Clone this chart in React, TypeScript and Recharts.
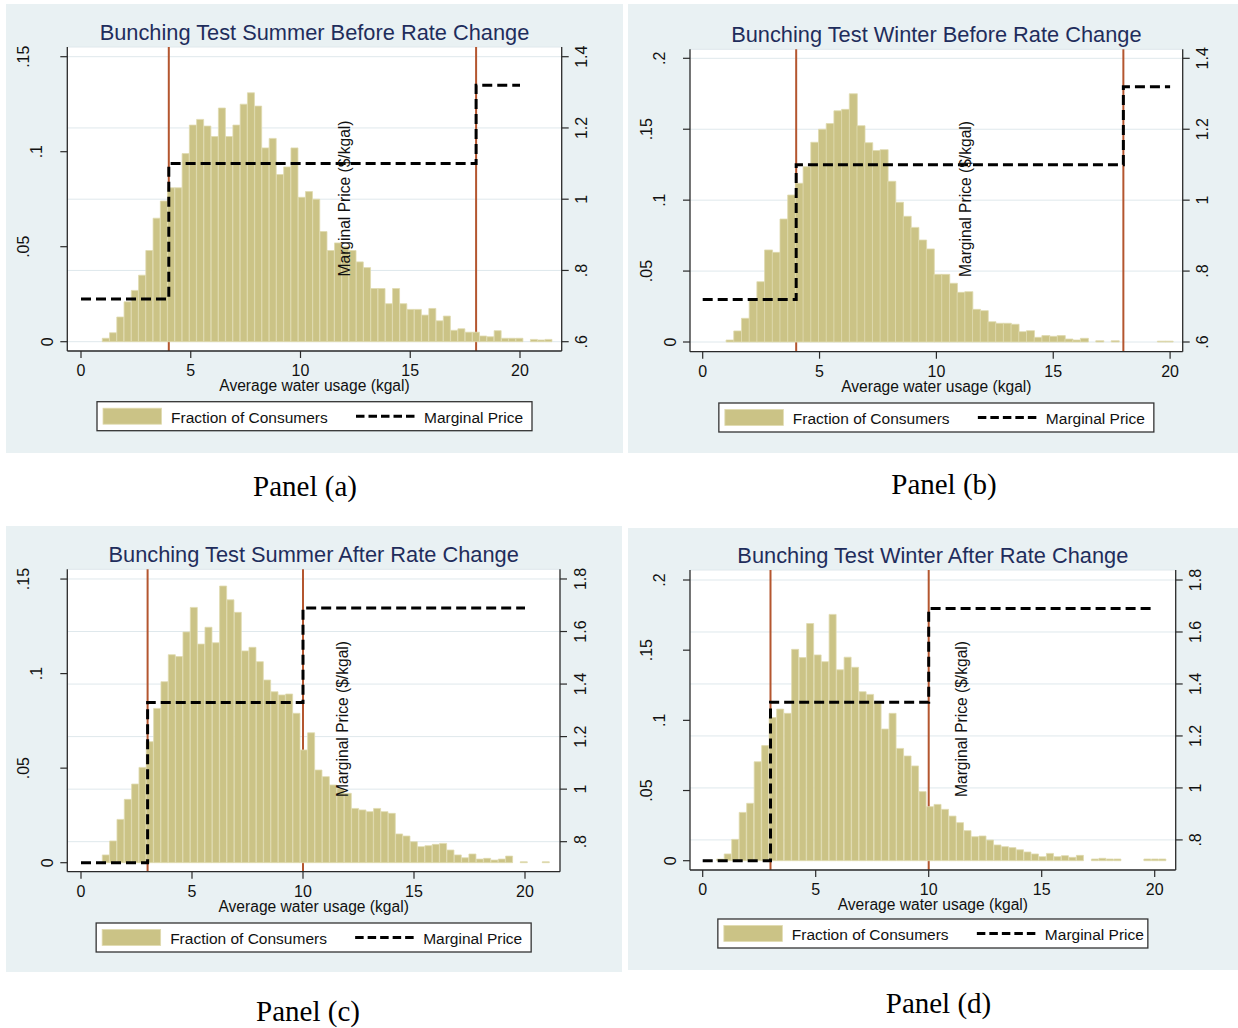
import React from 'react';
import { ComposedChart, Bar, Line, XAxis, YAxis, CartesianGrid, ReferenceLine } from 'recharts';

// ---------------- DATA ----------------
// Fraction of consumers per histogram bin
const fractionA = [0.0018, 0.0047, 0.013, 0.021, 0.027, 0.035, 0.048, 0.065, 0.074, 0.081,
  0.081, 0.099, 0.114, 0.117, 0.1135, 0.108, 0.123, 0.108, 0.114, 0.125,
  0.131, 0.124, 0.102, 0.107, 0.088, 0.092, 0.102, 0.076, 0.079, 0.075,
  0.058, 0.048, 0.052, 0.050, 0.048, 0.042, 0.039, 0.028, 0.028, 0.020,
  0.028, 0.020, 0.017, 0.017, 0.014, 0.0175, 0.011, 0.0135, 0.006, 0.0068,
  0.005, 0.005, 0.003, 0.0026, 0.0058, 0.0018, 0.0018, 0.0018, 0, 0.0012, 0.0009, 0.0012];
const binStartA = 0.97;
const binWidthA = 0.3306;

const fractionB = [0.0014, 0.0078, 0.0167, 0.0296, 0.0425, 0.0649, 0.0632, 0.0867, 0.1036, 0.1119,
  0.1236, 0.1408, 0.150, 0.154, 0.163, 0.164, 0.175, 0.1525, 0.1405, 0.135,
  0.1356, 0.1133, 0.0985, 0.0886, 0.0808, 0.0719, 0.0656, 0.0477, 0.0477, 0.0414,
  0.035, 0.0355, 0.023, 0.0221, 0.0143, 0.0132, 0.0132, 0.0125, 0.0073, 0.008,
  0.0033, 0.0045, 0.004, 0.0045, 0.0021, 0.0014, 0.0026, 0, 0.0009, 0,
  0.0009, 0, 0, 0, 0, 0, 0.0006, 0.0006];
const binStartB = 1.0;
const binWidthB = 0.3296;

const fractionC = [0.0041, 0.0115, 0.0229, 0.0335, 0.0416, 0.0504, 0.064, 0.0816, 0.0957, 0.110,
  0.109, 0.122, 0.135, 0.1156, 0.1245, 0.1163, 0.1463, 0.139, 0.1324, 0.112,
  0.1139, 0.1063, 0.0966, 0.0904, 0.0887, 0.0892, 0.079, 0.0596, 0.0687, 0.049,
  0.0455, 0.0411, 0.0393, 0.0367, 0.0287, 0.0279, 0.027, 0.0287, 0.027, 0.0261,
  0.0152, 0.0141, 0.0111, 0.0085, 0.009, 0.0097, 0.0102, 0.0067, 0.0041, 0.0026,
  0.0046, 0.0019, 0.0023, 0.0014, 0.0019, 0.0035, 0, 0.0005, 0, 0, 0.0005];
const binStartC = 0.96;
const binWidthC = 0.3303;

const fractionD = [0.0012, 0.0048, 0.0152, 0.0344, 0.0409, 0.0705, 0.082, 0.102, 0.108, 0.105,
  0.1506, 0.1447, 0.169, 0.1466, 0.1418, 0.1755, 0.136, 0.145, 0.1378, 0.1204,
  0.1185, 0.1126, 0.0938, 0.105, 0.080, 0.0746, 0.0675, 0.0492, 0.0385, 0.0401,
  0.0366, 0.0318, 0.0271, 0.0214, 0.0171, 0.0176, 0.0147, 0.0112, 0.010, 0.0093,
  0.0078, 0.0062, 0.0048, 0.0029, 0.0052, 0.0029, 0.0036, 0.0024, 0.0038, 0,
  0.0012, 0.0017, 0.0012, 0.0012, 0, 0, 0, 0.0012, 0.0012, 0.0012];
const binStartD = 0.62;
const binWidthD = 0.3316;

// Marginal price step schedules ($/kgal)
const priceXBefore = [0, 4, 4, 18, 18, 20];
const priceYBefore = [0.72, 0.72, 1.10, 1.10, 1.32, 1.32];
const priceXAfter = [0, 3, 3, 10, 10, 20];
const priceYAfter = [0.72, 0.72, 1.33, 1.33, 1.69, 1.69];
const kinksBefore = [4, 18];
const kinksAfter = [3, 10];

// Tick values
const xTicks = [0, 5, 10, 15, 20];
const leftTicks15 = [0, 0.05, 0.1, 0.15];
const leftTicks20 = [0, 0.05, 0.1, 0.15, 0.2];
const rightTicksBefore = [0.6, 0.8, 1, 1.2, 1.4];
const rightTicksAfter = [0.8, 1, 1.2, 1.4, 1.6, 1.8];

const titles = [
  'Bunching Test Summer Before Rate Change',
  'Bunching Test Winter Before Rate Change',
  'Bunching Test Summer After Rate Change',
  'Bunching Test Winter After Rate Change',
];
const captions = ['Panel (a)', 'Panel (b)', 'Panel (c)', 'Panel (d)'];
const xAxisTitle = 'Average water usage (kgal)';
const rightAxisTitle = 'Marginal Price ($/kgal)';
const legendBarLabel = 'Fraction of Consumers';
const legendLineLabel = 'Marginal Price';

// ---------------- STYLE / LAYOUT ----------------
const FONT = '"Liberation Sans", Arial, Helvetica, sans-serif';
const SERIF = '"Liberation Serif", "Times New Roman", Times, serif';
const BG = '#e9f1f3';
const BAR_FILL = '#cbc386';
const BAR_EDGE = '#e0dbb0';
const KINK = '#b4562f';
const AXIS = '#2a2a2a';
const GRID = '#dfe8ec';
const TITLE = '#1f2d5c';
const YW = 50;
const XH = 30;

type Geo = {
  bg: number[]; plot: number[]; x0: number; xu: number; y0: number; yu: number; r0: number; ru: number;
  legendTop: number; legendW: number; mp: number[]; cap: number[];
};

const geoA: Geo = { bg: [6, 4, 623, 453], plot: [67.3, 47, 561.7, 351], x0: 81, xu: 21.95, y0: 341.7, yu: 1900, r0: 0.6, ru: 356.25, legendTop: 401.7, legendW: 435, mp: [345.5, 198.5], cap: [305, 496] };
const geoB: Geo = { bg: [628, 4, 1238, 453], plot: [690, 49.3, 1182.7, 351.7], x0: 702.7, xu: 23.37, y0: 342, yu: 1418.5, r0: 0.6, ru: 354.6, legendTop: 403, legendW: 435, mp: [966.7, 199], cap: [944, 494] };
const geoC: Geo = { bg: [6, 526, 622, 972], plot: [67.3, 569.3, 560, 871.7], x0: 81, xu: 22.2, y0: 862.7, yu: 1891, r0: 0.72, ru: 262.7, legendTop: 923, legendW: 435, mp: [344, 719], cap: [308, 1021] };
const geoD: Geo = { bg: [628, 528, 1238, 970], plot: [690, 570, 1175.7, 870], x0: 702.7, xu: 22.6, y0: 860.7, yu: 1403.5, r0: 0.72, ru: 259.9, legendTop: 919, legendW: 430, mp: [962.5, 719], cap: [938.5, 1013] };

const fmt = (v: number) => {
  const s = String(Math.round(v * 100) / 100);
  return s.startsWith('0.') ? s.slice(1) : s;
};

const LeftTick = (props: any) => {
  const { x, y, payload } = props;
  const label = fmt(payload.value);
  const off = label.length === 1 ? 19.5 : label.length === 2 ? 31 : 44;
  const bx = x + 7 - off + 5.7;
  return (
    <text x={bx} y={y} transform={`rotate(-90 ${bx} ${y})`} textAnchor="middle" fontSize={16} fill="#111" fontFamily={FONT}>
      {label}
    </text>
  );
};

const RightTick = (props: any) => {
  const { x, y, payload } = props;
  const label = fmt(payload.value);
  const bx = x + 18.7;
  return (
    <text x={bx} y={y} transform={`rotate(-90 ${bx} ${y})`} textAnchor="middle" fontSize={16} fill="#111" fontFamily={FONT}>
      {label}
    </text>
  );
};

const BottomTick = (props: any) => {
  const { x, y, payload } = props;
  return (
    <text x={x} y={y + 18.4} textAnchor="middle" fontSize={16} fill="#111" fontFamily={FONT}>
      {String(payload.value)}
    </text>
  );
};

type PanelProps = {
  geo: Geo; fractions: number[]; binStart: number; binWidth: number;
  priceX: number[]; priceY: number[]; kinks: number[]; leftTicks: number[]; rightTicks: number[];
};

function Panel({ geo, fractions, binStart, binWidth, priceX, priceY, kinks, leftTicks, rightTicks }: PanelProps) {
  const { bg, plot, x0, xu, y0, yu, r0, ru } = geo;
  const W = bg[2] - bg[0];
  const H = bg[3] - bg[1];
  const xDomain = [(plot[0] - x0) / xu, (plot[2] - x0) / xu];
  const lDomain = [(y0 - plot[3]) / yu, (y0 - plot[1]) / yu];
  const rDomain = [r0 + (y0 - plot[3]) / ru, r0 + (y0 - plot[1]) / ru];
  const margin = {
    top: plot[1] - bg[1],
    bottom: bg[3] - plot[3] - XH,
    left: plot[0] - bg[0] - YW,
    right: bg[2] - plot[2] - YW,
  };
  const bars = fractions.map((f, i) => ({ x: binStart + (i + 0.5) * binWidth, f }));
  const price = priceX.map((x, i) => ({ x, p: priceY[i] }));
  return (
    <div style={{ position: 'absolute', left: bg[0], top: bg[1], width: W, height: H, background: BG }}>
      <ComposedChart width={W} height={H} data={bars} margin={margin} barCategoryGap={0} barGap={0}>
        <CartesianGrid xAxisId="bars" yAxisId="right" vertical={false} stroke={GRID} strokeWidth={1} fill="#ffffff" fillOpacity={1} />
        {kinks.map((k) => (
          <ReferenceLine key={k} x={k} xAxisId="bars" yAxisId="left" stroke={KINK} strokeWidth={2} zIndex={150} />
        ))}
        <Bar dataKey="f" xAxisId="bars" yAxisId="left" fill={BAR_FILL} stroke={BAR_EDGE} strokeWidth={0.8} isAnimationActive={false} />
        <Line data={price} dataKey="p" xAxisId="line" yAxisId="right" type="linear" stroke="#000" strokeWidth={3}
          strokeDasharray="10 5" dot={false} activeDot={false} isAnimationActive={false} />
        <XAxis xAxisId="bars" dataKey="x" type="number" domain={xDomain} allowDataOverflow ticks={xTicks} interval={0}
          height={XH} tickSize={7} tickMargin={0} tick={BottomTick} axisLine={{ stroke: AXIS, strokeWidth: 1.3 }} tickLine={{ stroke: AXIS, strokeWidth: 1.2 }} />
        <XAxis xAxisId="line" dataKey="x" type="number" domain={xDomain} allowDataOverflow hide />
        <YAxis yAxisId="left" orientation="left" type="number" domain={lDomain} allowDataOverflow ticks={leftTicks} interval={0}
          width={YW} tickSize={7} tickMargin={0} tick={LeftTick} axisLine={{ stroke: AXIS, strokeWidth: 1.3 }} tickLine={{ stroke: AXIS, strokeWidth: 1.2 }} />
        <YAxis yAxisId="right" orientation="right" type="number" domain={rDomain} allowDataOverflow ticks={rightTicks} interval={0}
          width={YW} tickSize={7} tickMargin={0} tick={RightTick} axisLine={{ stroke: AXIS, strokeWidth: 1.3 }} tickLine={{ stroke: AXIS, strokeWidth: 1.2 }} />
      </ComposedChart>
    </div>
  );
}

function Overlay({ geo, title, caption }: { geo: Geo; title: string; caption: string }) {
  const { plot, legendTop, legendW, mp, cap } = geo;
  const cx = (plot[0] + plot[2]) / 2;
  const L = cx - legendW / 2;
  const T = legendTop;
  const mpx = mp[0] + 4;
  return (
    <g>
      <text x={cx} y={plot[1] - 7.3} textAnchor="middle" fontSize={21.8} fill={TITLE} fontFamily={FONT}>{title}</text>
      <text x={cx} y={plot[3] + 39.8} textAnchor="middle" fontSize={15.6} fill="#111" fontFamily={FONT}>{xAxisTitle}</text>
      <text x={mpx} y={mp[1]} transform={`rotate(-90 ${mpx} ${mp[1]})`} textAnchor="middle" fontSize={15.6} fill="#111" fontFamily={FONT}>{rightAxisTitle}</text>
      <rect x={L} y={T} width={legendW} height={29} fill="#fff" stroke="#333" strokeWidth={1.3} />
      <rect x={L + 6} y={T + 6.5} width={58.5} height={16} fill={BAR_FILL} stroke={BAR_EDGE} strokeWidth={0.8} />
      <text x={L + 74} y={T + 21} fontSize={15.5} fill="#111" fontFamily={FONT}>{legendBarLabel}</text>
      <line x1={L + 259} x2={L + 317.5} y1={T + 14.5} y2={T + 14.5} stroke="#000" strokeWidth={3} strokeDasharray="8.5 4" />
      <text x={L + 327} y={T + 21} fontSize={15.5} fill="#111" fontFamily={FONT}>{legendLineLabel}</text>
      <text x={cap[0]} y={cap[1]} textAnchor="middle" fontSize={29} fill="#000" fontFamily={SERIF}>{caption}</text>
    </g>
  );
}

export default function App() {
  return (
    <div style={{ position: 'absolute', left: 0, top: 0, width: 1238, height: 1028, background: '#fff', overflow: 'hidden' }}>
      <Panel geo={geoA} fractions={fractionA} binStart={binStartA} binWidth={binWidthA} priceX={priceXBefore} priceY={priceYBefore} kinks={kinksBefore} leftTicks={leftTicks15} rightTicks={rightTicksBefore} />
      <Panel geo={geoB} fractions={fractionB} binStart={binStartB} binWidth={binWidthB} priceX={priceXBefore} priceY={priceYBefore} kinks={kinksBefore} leftTicks={leftTicks20} rightTicks={rightTicksBefore} />
      <Panel geo={geoC} fractions={fractionC} binStart={binStartC} binWidth={binWidthC} priceX={priceXAfter} priceY={priceYAfter} kinks={kinksAfter} leftTicks={leftTicks15} rightTicks={rightTicksAfter} />
      <Panel geo={geoD} fractions={fractionD} binStart={binStartD} binWidth={binWidthD} priceX={priceXAfter} priceY={priceYAfter} kinks={kinksAfter} leftTicks={leftTicks20} rightTicks={rightTicksAfter} />
      <svg width={1238} height={1028} style={{ position: 'absolute', left: 0, top: 0, pointerEvents: 'none' }}>
        <Overlay geo={geoA} title={titles[0]} caption={captions[0]} />
        <Overlay geo={geoB} title={titles[1]} caption={captions[1]} />
        <Overlay geo={geoC} title={titles[2]} caption={captions[2]} />
        <Overlay geo={geoD} title={titles[3]} caption={captions[3]} />
      </svg>
    </div>
  );
}
